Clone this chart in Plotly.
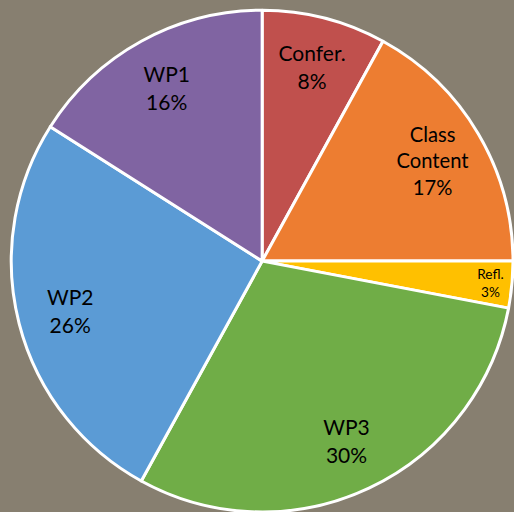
import plotly.graph_objects as go

labels = ["Confer.", "Class Content", "Refl.", "WP3", "WP2", "WP1"]
display = ["Confer.", "Class<br>Content", "Refl.", "WP3", "WP2", "WP1"]
values = [8, 17, 3, 30, 26, 16]
colors = ["#C0504D", "#ED7D31", "#FFC000", "#70AD47", "#5B9BD5", "#8064A2"]
sizes = [21, 21, 15, 21, 21, 21]

dom = dict(x=[0.02, 1.0], y=[0.0, 0.98])

fig = go.Figure()
fig.add_trace(go.Pie(
    labels=labels, values=values, sort=False, direction="clockwise", rotation=0,
    marker=dict(colors=colors, line=dict(color="white", width=3)),
    textinfo="none", domain=dom, showlegend=False, hoverinfo="label+percent",
))
fig.add_trace(go.Pie(
    labels=labels, values=values, sort=False, direction="clockwise", rotation=0,
    hole=0.58,
    text=display,
    texttemplate="%{text}<br>%{percent:.0%}",
    textposition="inside",
    insidetextorientation="horizontal",
    marker=dict(colors=["rgba(0,0,0,0)"] * len(values), line=dict(width=0)),
    textfont=dict(family="Lato, Open Sans, sans-serif", color="black", size=sizes),
    domain=dom, showlegend=False, hoverinfo="skip",
))
fig.update_layout(
    width=514, height=512,
    margin=dict(l=0, r=0, t=0, b=0),
    paper_bgcolor="#877F70",
    plot_bgcolor="#877F70",
)
fig.write_html(
    "out.html",
    config={"displayModeBar": False},
    post_script="document.body.style.margin='0';document.body.style.background='#877F70';",
)
